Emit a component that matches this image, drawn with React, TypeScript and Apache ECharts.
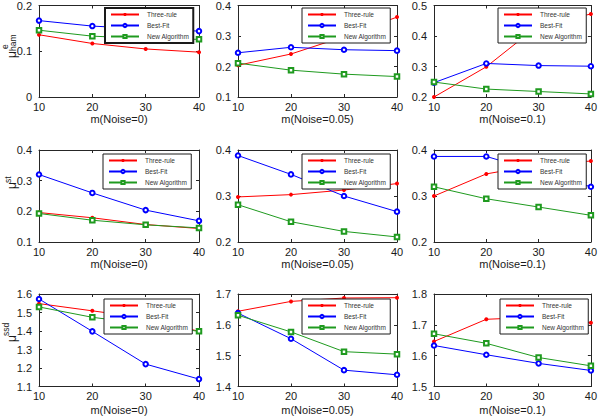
import React, { useEffect, useRef } from "react";
import * as echarts from "echarts";

const xs = [10, 20, 30, 40];
const seriesNames = ["Three-rule", "Best-Fit", "New Algorithm"];
const noiseLabels = ["m(Noise=0)", "m(Noise=0.05)", "m(Noise=0.1)"];

// rows: ham, st, ssd ; each row has 3 noise levels
const threeRuleHam = [[0.136, 0.117, 0.105, 0.098], [0.204, 0.241, 0.298, 0.362], [0.200, 0.299, 0.435, 0.472]];
const bestFitHam = [[0.167, 0.155, 0.149, 0.144], [0.245, 0.263, 0.255, 0.252], [0.247, 0.310, 0.303, 0.301]];
const newAlgHam = [[0.146, 0.133, 0.128, 0.126], [0.211, 0.188, 0.175, 0.167], [0.249, 0.226, 0.218, 0.210]];

const threeRuleSt = [[0.196, 0.179, 0.157, 0.144], [0.298, 0.303, 0.313, 0.327], [0.300, 0.348, 0.368, 0.376]];
const bestFitSt = [[0.320, 0.260, 0.204, 0.169], [0.388, 0.347, 0.300, 0.266], [0.386, 0.386, 0.353, 0.320]];
const newAlgSt = [[0.193, 0.171, 0.156, 0.146], [0.281, 0.244, 0.223, 0.211], [0.320, 0.294, 0.276, 0.258]];

const threeRuleSsd = [[1.548, 1.509, 1.47, 1.398], [1.644, 1.676, 1.687, 1.688], [1.646, 1.718, 1.725, 1.707]];
const bestFitSsd = [[1.573, 1.398, 1.221, 1.140], [1.638, 1.555, 1.453, 1.438], [1.633, 1.603, 1.575, 1.552]];
const newAlgSsd = [[1.530, 1.474, 1.438, 1.398], [1.631, 1.577, 1.513, 1.505], [1.671, 1.640, 1.594, 1.567]];

const yMins = [[0, 0.1, 0.2], [0.1, 0.2, 0.2], [1.1, 1.4, 1.5]];
const yMaxs = [[0.2, 0.4, 0.5], [0.4, 0.4, 0.4], [1.6, 1.7, 1.8]];

const rowData = [
  [threeRuleHam, bestFitHam, newAlgHam],
  [threeRuleSt, bestFitSt, newAlgSt],
  [threeRuleSsd, bestFitSsd, newAlgSsd],
];

const colors = ["#ff0000", "#0000ff", "#1f9a1f"];
const symbols = ["circle", "emptyCircle", "emptyRect"];

const colBoxes = [
  { left: 39, width: 160 },
  { left: 238, width: 159 },
  { left: 434, width: 160 },
];
const rowBoxes = [
  { top: 5, height: 92, nameGap: 16 },
  { top: 150, height: 92, nameGap: 16 },
  { top: 294, height: 92.5, nameGap: 18 },
];
const legendPos = [
  [[105, 8], [302, 8], [498, 8]],
  [[103, 154], [302, 154], [498, 154]],
  [[104, 299], [302, 299], [500, 299]],
];

const FONT = "Liberation Sans, Arial, Helvetica, sans-serif";
const AXC = "#262626";

function yName(x: number, y: number, sup: string, sub: string, supX: number, supY: number, subX: number, subY: number) {
  const children: any[] = [
    {
      type: "text",
      x: 0,
      y: 0,
      style: { text: "μ", fontSize: 12, fontFamily: FONT, fill: "#1a1a1a", textAlign: "left", textVerticalAlign: "middle" },
    },
  ];
  if (sup) {
    children.push({
      type: "text",
      x: supX,
      y: supY,
      style: { text: sup, fontSize: 8.5, fontFamily: FONT, fill: "#1a1a1a", textAlign: "left", textVerticalAlign: "middle" },
    });
  }
  if (sub) {
    children.push({
      type: "text",
      x: subX,
      y: subY,
      style: { text: sub, fontSize: 8.5, fontFamily: FONT, fill: "#1a1a1a", textAlign: "left", textVerticalAlign: "middle" },
    });
  }
  return { type: "group", x, y, rotation: Math.PI / 2, children };
}

export default function App() {
  const ref = useRef<HTMLDivElement>(null);
  useEffect(() => {
    if (!ref.current) return;
    const chart = echarts.init(ref.current, null, { renderer: "svg" });
    const grid: any[] = [];
    const xAxis: any[] = [];
    const yAxis: any[] = [];
    const series: any[] = [];
    const legend: any[] = [];
    let g = 0;
    for (let r = 0; r < 3; r++) {
      for (let c = 0; c < 3; c++) {
        grid.push({ left: colBoxes[c].left, width: colBoxes[c].width, top: rowBoxes[r].top, height: rowBoxes[r].height, show: false });
        const common = {
          gridIndex: g,
          type: "value",
          splitLine: { show: false },
          axisLine: { show: true, onZero: false, lineStyle: { color: AXC, width: 1 } },
          axisTick: { show: true, inside: true, length: 3, lineStyle: { color: AXC } },
        };
        xAxis.push({
          ...common,
          position: "bottom",
          min: 10,
          max: 40,
          interval: 10,
          name: noiseLabels[c],
          nameLocation: "middle",
          nameGap: rowBoxes[r].nameGap,
          nameTextStyle: { fontSize: 11, fontFamily: FONT, color: "#1a1a1a" },
          axisLabel: { fontSize: 11, fontFamily: FONT, color: "#1a1a1a", margin: 4 },
        });
        xAxis.push({
          ...common,
          position: "top",
          min: 10,
          max: 40,
          interval: 10,
          axisLabel: { show: false },
        });
        yAxis.push({
          ...common,
          position: "left",
          min: yMins[r][c],
          max: yMaxs[r][c],
          interval: 0.1,
          axisLabel: { fontSize: 11, fontFamily: FONT, color: "#1a1a1a", margin: 7 },
        });
        yAxis.push({
          ...common,
          position: "right",
          min: yMins[r][c],
          max: yMaxs[r][c],
          interval: 0.1,
          axisLabel: { show: false },
        });
        for (let s = 0; s < 3; s++) {
          const vals = rowData[r][s][c];
          series.push({
            type: "line",
            name: seriesNames[s],
            xAxisIndex: g * 2,
            yAxisIndex: g * 2,
            data: xs.map((x, i) => [x, vals[i]]),
            symbol: symbols[s],
            symbolSize: s === 0 ? 4 : 4.5,
            showSymbol: true,
            lineStyle: { color: colors[s], width: 1, type: "solid" },
            itemStyle: { color: colors[s], borderWidth: 0.9 },
          });
        }
        legend.push({
          left: legendPos[r][c][0],
          top: legendPos[r][c][1],
          orient: "vertical",
          data: seriesNames,
          itemWidth: 28,
          itemHeight: 4,
          itemGap: 4,
          padding: [3, 4, 3, 5],
          borderColor: "#1a1a1a",
          borderWidth: r === 0 && c === 0 ? 2 : 1,
          backgroundColor: "#ffffff",
          selectedMode: false,
          textStyle: { fontSize: 6.5, fontFamily: FONT, color: "#333", width: 44, padding: [0, 0, 0, 3] },
        });
        g++;
      }
    }
    const graphic = [
      yName(11.5, 58, "e", "ham", 9, -7, 7, 1),
      yName(12, 189, "st", "", 6, -4.5, 0, 0),
      yName(12, 342, "ssd", "", 6, -6.5, 0, 0),
    ];
    chart.setOption({
      animation: false,
      backgroundColor: "#ffffff",
      color: colors,
      grid,
      xAxis,
      yAxis,
      series,
      legend,
      graphic,
    });
    return () => chart.dispose();
  }, []);
  return <div ref={ref} style={{ position: "fixed", left: 0, top: 0, width: 600, height: 417 }} />;
}
